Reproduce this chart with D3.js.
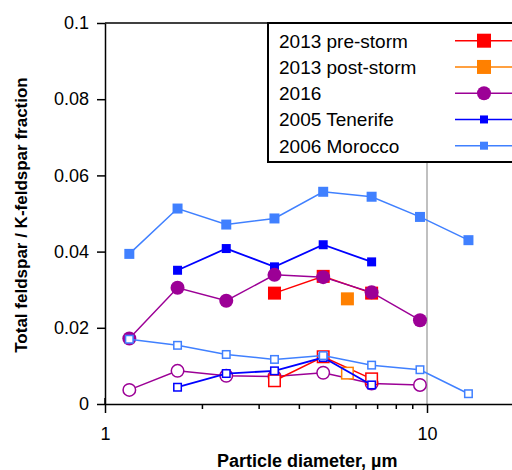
<!DOCTYPE html>
<html><head><meta charset="utf-8">
<script src="https://cdn.jsdelivr.net/npm/d3@7"></script>
<style>
html,body{margin:0;padding:0;background:#fff;}
svg{display:block;font-family:Arial,"Liberation Sans",sans-serif;}
</style></head>
<body>
<svg id="chart" width="512" height="470"></svg>
<script>
// ---- data ----
const seriesNames = ["2013 pre-storm", "2013 post-storm", "2016", "2005 Tenerife", "2006 Morocco"];
const preStormX = [3.36, 4.76, 6.73];
const preStormTotal = [0.0291, 0.0335, 0.0291];
const preStormK = [0.0061, 0.0124, 0.0066];
const postStormX = [5.66];
const postStormTotal = [0.0276];
const postStormK = [0.0081];
const y2016X = [1.19, 1.68, 2.38, 3.36, 4.76, 6.73, 9.51];
const y2016Total = [0.0172, 0.0305, 0.0271, 0.0339, 0.0333, 0.0293, 0.0220];
const y2016K = [0.0037, 0.0087, 0.0074, 0.0072, 0.0082, 0.0054, 0.0050];
const tenerifeX = [1.68, 2.38, 3.36, 4.76, 6.73];
const tenerifeTotal = [0.0351, 0.0408, 0.0360, 0.0418, 0.0373];
const tenerifeK = [0.0044, 0.0080, 0.0087, 0.0122, 0.0050];
const moroccoX = [1.19, 1.68, 2.38, 3.36, 4.76, 6.73, 9.51, 13.45];
const moroccoTotal = [0.0394, 0.0513, 0.0471, 0.0487, 0.0557, 0.0544, 0.0491, 0.0430];
const moroccoK = [0.0170, 0.0154, 0.0130, 0.0117, 0.0127, 0.0102, 0.0090, 0.0027];
const yTicks = [0, 0.02, 0.04, 0.06, 0.08, 0.1];
const yTickLabels = ["0", "0.02", "0.04", "0.06", "0.08", "0.1"];
const xTicks = [1, 10];
const xTickLabels = ["1", "10"];
const xMinorTicks = [2, 3, 4, 5, 6, 7, 8, 9, 20];

// ---- styles ----
const colors = {pre:"#ff0000", post:"#ff8000", y16:"#9c0096", ten:"#0000ff", mor:"#4080ff"};

const svg = d3.select("#chart");
const decade = 322;
const x = d3.scaleLog().domain([1, 20]).range([105, 105 + decade * Math.log10(20)]);
const y = d3.scaleLinear().domain([0, 0.1]).range([404, 23]);

// gray reference line at 10
svg.append("line").attr("x1", x(10)).attr("x2", x(10)).attr("y1", y(0.1)).attr("y2", y(0))
  .attr("stroke", "#c0c0c0").attr("stroke-width", 2);

// top frame
svg.append("line").attr("x1", 105).attr("x2", 512).attr("y1", y(0.1)).attr("y2", y(0.1))
  .attr("stroke", "#000").attr("stroke-width", 1.5);

// axes
const yAxis = d3.axisLeft(y).tickValues(yTicks).tickFormat((d, i) => yTickLabels[i])
  .tickSizeInner(8).tickSizeOuter(0).tickPadding(8);
const gy = svg.append("g").attr("transform", "translate(105,0)").call(yAxis);
gy.selectAll("text").attr("font-size", 18).attr("fill", "#000").attr("font-family", "Arial, 'Liberation Sans', sans-serif");
gy.selectAll("line,path").attr("stroke", "#000").attr("stroke-width", 1.5);

const xAxis = d3.axisBottom(x).tickValues(xTicks).tickFormat((d, i) => xTickLabels[i])
  .tickSizeInner(9).tickSizeOuter(0).tickPadding(14);
const gx = svg.append("g").attr("transform", "translate(0,404)").call(xAxis);
gx.selectAll("text").attr("font-size", 18).attr("fill", "#000").attr("font-family", "Arial, 'Liberation Sans', sans-serif");
gx.selectAll("line,path").attr("stroke", "#000").attr("stroke-width", 1.5);
const xMinor = d3.axisBottom(x).tickValues(xMinorTicks).tickFormat("").tickSizeInner(5).tickSizeOuter(0);
const gxm = svg.append("g").attr("transform", "translate(0,404)").call(xMinor);
gxm.select("path").remove();
gxm.selectAll("line").attr("stroke", "#000").attr("stroke-width", 1.5);
// tick at origin extends up a little
svg.append("line").attr("x1", x(1)).attr("x2", x(1)).attr("y1", 398).attr("y2", 404).attr("stroke", "#000").attr("stroke-width", 1.5);

// axis titles
svg.append("text").attr("x", 217).attr("y", 467).attr("font-size", 18).attr("font-weight", "bold")
  .text("Particle diameter, µm");
svg.append("text").attr("transform", "translate(27,215) rotate(-90)").attr("text-anchor", "middle")
  .attr("font-size", 17).attr("font-weight", "bold").text("Total feldspar / K-feldspar fraction");

const line = d3.line().x(d => x(d[0])).y(d => y(d[1]));
const zip = (xs, ys) => xs.map((v, i) => [v, ys[i]]);

function drawSeries(xs, ys, color, shape, size, filled, lw) {
  const pts = zip(xs, ys);
  const g = svg.append("g");
  if (pts.length > 1) g.append("path").datum(pts).attr("d", line).attr("fill", "none")
    .attr("stroke", color).attr("stroke-width", lw);
  g.selectAll(".m").data(pts).enter().each(function(d) {
    const s = d3.select(this);
    if (shape === "circle") {
      g.append("circle").attr("cx", x(d[0])).attr("cy", y(d[1])).attr("r", filled ? size / 2 : size / 2 - 0.75)
        .attr("fill", filled ? color : "#fff").attr("stroke", color).attr("stroke-width", filled ? 0 : 1.5);
    } else {
      const sz = filled ? size : size - 1.5;
      g.append("rect").attr("x", x(d[0]) - sz / 2).attr("y", y(d[1]) - sz / 2).attr("width", sz).attr("height", sz)
        .attr("fill", filled ? color : "#fff").attr("stroke", color).attr("stroke-width", filled ? 0 : 1.5);
    }
  });
}

// filled (total feldspar)
drawSeries(tenerifeX, tenerifeTotal, colors.ten, "rect", 9, true, 1.8);
drawSeries(moroccoX, moroccoTotal, colors.mor, "rect", 10, true, 1.5);
drawSeries(preStormX, preStormTotal, colors.pre, "rect", 13, true, 1.5);
drawSeries(postStormX, postStormTotal, colors.post, "rect", 13, true, 1.5);
drawSeries(y2016X, y2016Total, colors.y16, "circle", 14, true, 1.5);
// open (K-feldspar)
drawSeries(y2016X, y2016K, colors.y16, "circle", 14, false, 1.5);
drawSeries(preStormX, preStormK, colors.pre, "rect", 13, false, 1.5);
drawSeries(postStormX, postStormK, colors.post, "rect", 13, false, 1.5);
drawSeries(tenerifeX, tenerifeK, colors.ten, "rect", 9, false, 1.8);
drawSeries(moroccoX, moroccoK, colors.mor, "rect", 9, false, 1.5);

// legend
const lg = svg.append("g");
lg.append("rect").attr("x", 268).attr("y", 23).attr("width", 260).attr("height", 139)
  .attr("fill", "#fff").attr("stroke", "#000").attr("stroke-width", 2);
const legColors = [colors.pre, colors.post, colors.y16, colors.ten, colors.mor];
const legShapes = ["rect", "rect", "circle", "rect", "rect"];
const legSizes = [14, 14, 14, 8, 8];
seriesNames.forEach((name, i) => {
  const cy = 40.7 + i * 26.25;
  lg.append("text").attr("x", 279).attr("y", cy + 6.8).attr("font-size", 19).text(name);
  lg.append("line").attr("x1", 455).attr("x2", 512).attr("y1", cy).attr("y2", cy)
    .attr("stroke", legColors[i]).attr("stroke-width", 1.5);
  if (legShapes[i] === "circle") {
    lg.append("circle").attr("cx", 484).attr("cy", cy).attr("r", legSizes[i] / 2).attr("fill", legColors[i]);
  } else {
    lg.append("rect").attr("x", 484 - legSizes[i] / 2).attr("y", cy - legSizes[i] / 2)
      .attr("width", legSizes[i]).attr("height", legSizes[i]).attr("fill", legColors[i]);
  }
});
</script>
</body></html>
